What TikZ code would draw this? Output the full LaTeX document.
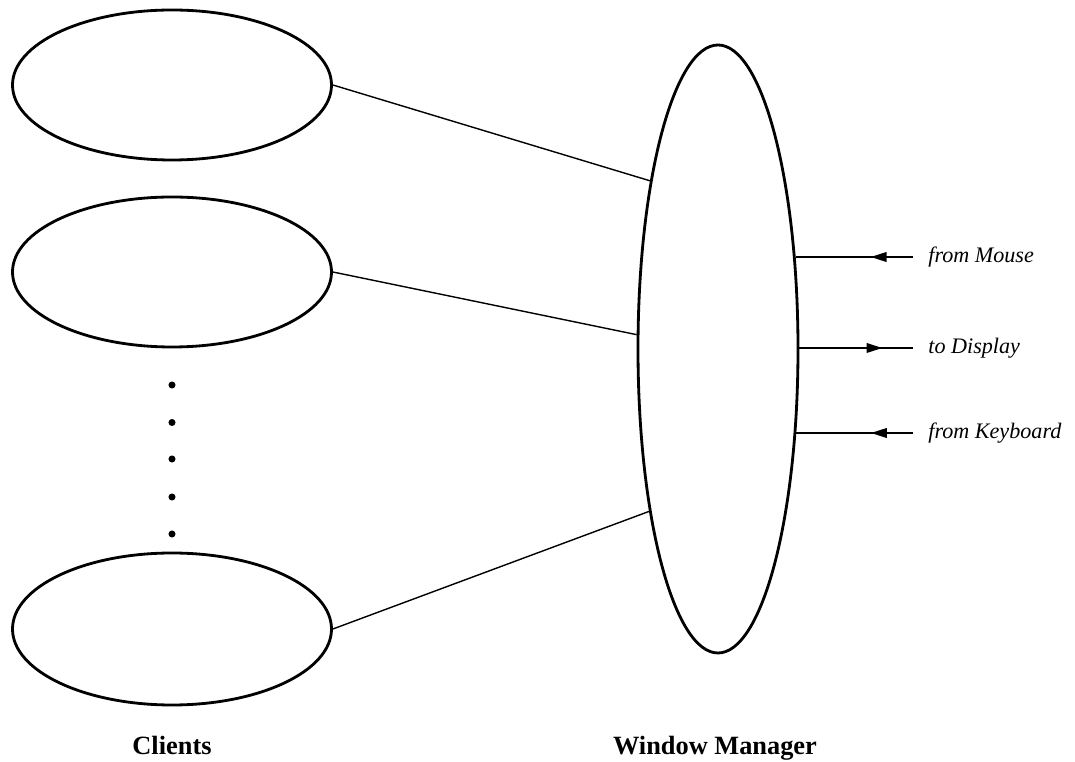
\documentclass[tikz,border=0pt]{standalone}
\usepackage{fontspec}
\setmainfont{Liberation Serif}
\usetikzlibrary{shapes.geometric,positioning,arrows.meta,decorations.markings}

\tikzset{
  client/.style={ellipse,draw,line width=1.6pt,minimum width=6.38cm,minimum height=3cm,inner sep=0pt},
  link/.style={line width=0.8pt},
  feed/.style={line width=0.9pt,postaction={decorate},
    decoration={markings,mark=at position #1 with {\arrow{Triangle[length=9pt,width=5.5pt]}}}},
  io/.style={font=\itshape\fontsize{12.6}{15}\selectfont,inner sep=0pt},
  caption/.style={font=\bfseries\fontsize{15}{18}\selectfont,inner sep=0pt}
}

\begin{document}
\begin{tikzpicture}
    \useasboundingbox (0,0) rectangle (21.5,15.24);

    \node[client] (Client1) at (3.44,13.54) {};
    \node[client] (Client2) at (3.44,9.80) {};
    \node[client,minimum height=3.04cm] (ClientN) at (3.44,2.66) {};
    \foreach \y in {7.54,6.79,6.06,5.30,4.56}
        \fill (3.44,\y) circle (2pt);

    \node[ellipse,draw,line width=1.6pt,minimum width=3.2cm,minimum height=12.16cm,inner sep=0pt] (WM) at (14.36,8.26) {};

    \begin{scope}[every path/.style={link}]
       \draw (Client1.east) -- (WM.112);
       \draw (Client2.east) -- (WM.170);
       \draw (ClientN.east) -- (WM.247);
    \end{scope}

    % input and output devices
    \coordinate (Mouse) at (18.26,10.10);
    \coordinate (Display) at (18.26,8.28);
    \coordinate (Keyboard) at (18.26,6.58);
    \draw[feed=0.36] (Mouse) -- (Mouse -| WM.50);
    \draw[feed=0.73] (Display -| WM.east) -- (Display);
    \draw[feed=0.36] (Keyboard) -- (Keyboard -| WM.313);

    \node[io,right=0.3cm of Mouse] (MouseLbl) {from Mouse};
    \node[io,right=0.3cm of Display] (DisplayLbl) {to Display};
    \node[io,right=0.3cm of Keyboard] (KeyboardLbl) {from Keyboard};

    \node[caption,anchor=base] (ClientsLbl) at (3.44,0.14) {Clients};
    \node[caption,anchor=base] (WMLbl) at (14.3,0.14) {Window Manager};
\end{tikzpicture}
\end{document}
